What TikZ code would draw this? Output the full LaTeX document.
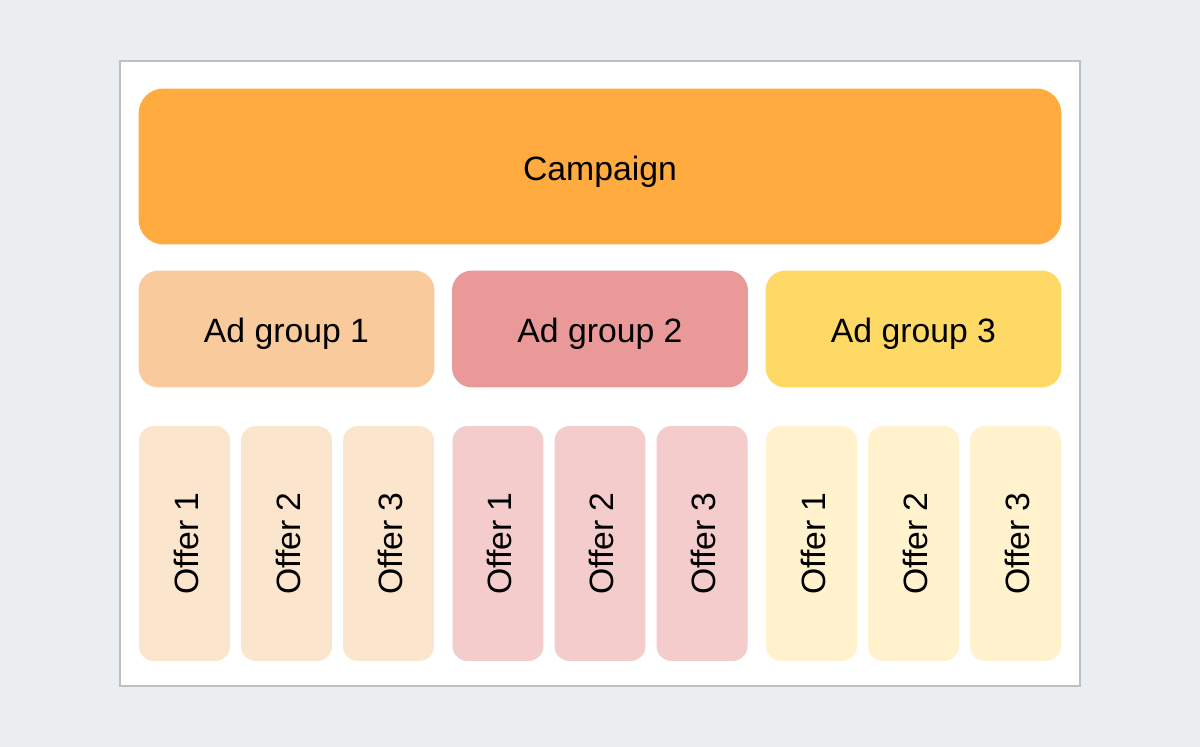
\documentclass[tikz,border=0pt]{standalone}
\usepackage{fontspec}
\setmainfont{Liberation Sans}
\usetikzlibrary{positioning}
\definecolor{pagegray}{HTML}{EBEEF1}
\definecolor{framegray}{HTML}{BFBFBF}
\definecolor{campaignorange}{HTML}{FFAB40}
\definecolor{adone}{HTML}{F9CB9C}
\definecolor{adtwo}{HTML}{EA9999}
\definecolor{adthree}{HTML}{FFD966}
\definecolor{offerone}{HTML}{FCE5CD}
\definecolor{offertwo}{HTML}{F4CCCC}
\definecolor{offerthree}{HTML}{FFF2CC}
\tikzset{every node/.style={inner sep=0pt, font=\fontsize{19.2}{23}\selectfont, text height=15.5pt, text depth=0pt},
  campaignbox/.style={fill=campaignorange, rounded corners=0.5cm, minimum width=18.46cm, minimum height=3.12cm},
  adbox/.style={rounded corners=0.4cm, minimum width=5.92cm, minimum height=2.34cm},
  offerbox/.style={rotate=90, rounded corners=0.3cm, minimum width=4.7cm, minimum height=1.82cm}}

\begin{document}
\begin{tikzpicture}[x=0.02cm, y=-0.02cm]
   \fill[pagegray] (0,0) rectangle (1200,747);
   \useasboundingbox (0,0) rectangle (1200,747);
   \draw[framegray, line width=0.85pt, fill=white] (120,61) rectangle (1080,686);
   \node[campaignbox] (campaign) at (600,166.5) {Campaign};
   \foreach \i/\adcol/\offcol in {1/adone/offerone, 2/adtwo/offertwo, 3/adthree/offerthree} {
     \node[adbox, fill=\adcol] (ad\i) at ({286.5+313.5*(\i-1)},329) {Ad group \i};
     \foreach \j in {1,2,3}
       \node[offerbox, fill=\offcol] (offer\i\j) at ({286.5+313.5*(\i-1)+102*(\j-2)},543.5) {Offer \j};
   }
\end{tikzpicture}
\end{document}
